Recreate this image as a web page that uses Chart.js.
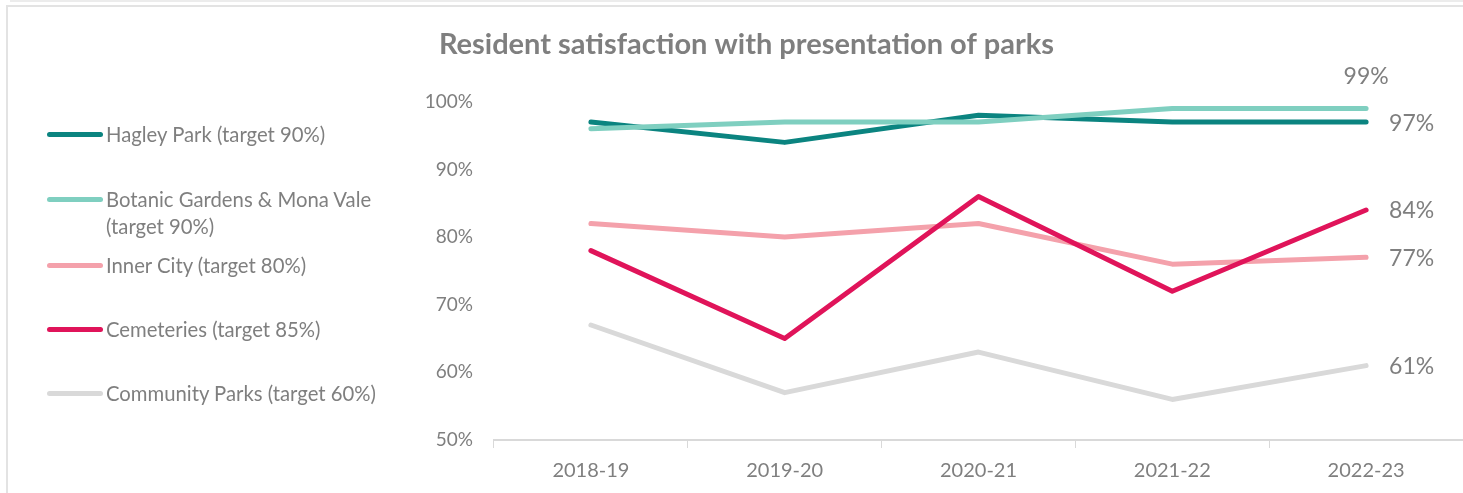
<!DOCTYPE html>
<html>
<head>
<meta charset="utf-8">
<script src="https://cdn.jsdelivr.net/npm/chart.js@4/dist/chart.umd.min.js"></script>
<style>
  html, body { margin: 0; padding: 0; background: #fff; }
  body { width: 1463px; height: 493px; position: relative; overflow: hidden; font-family: Lato, sans-serif; }
  #frame { position: absolute; left: 6px; top: 5px; right: -10px; bottom: -10px; border-left: 2px solid #e3e3e3; border-top: 2px solid #e3e3e3; }
  #topline { position: absolute; left: 10px; top: 0; right: 0; height: 2px; background: #ececec; }
  #wrap { position: absolute; left: 0; top: 0; width: 1463px; height: 493px; }
  #legend { position: absolute; left: 47px; top: 0; }
  .item { position: absolute; left: 0; width: 420px; }
  .swatch { position: absolute; left: 0; width: 56px; height: 5px; border-radius: 3px; }
  .txt { position: absolute; left: 59px; top: 0; font-size: 20.3px; line-height: 27px; color: #7f7f7f; white-space: nowrap; }
</style>
</head>
<body>
<div id="topline"></div>
<div id="frame"></div>
<div id="wrap"><canvas id="myChart" width="1463" height="493"></canvas></div>
<div id="legend"></div>
<script>
const years = ['2018-19', '2019-20', '2020-21', '2021-22', '2022-23'];
const seriesNames = [
  'Hagley Park (target 90%)',
  'Botanic Gardens & Mona Vale\n(target 90%)',
  'Inner City (target 80%)',
  'Cemeteries (target 85%)',
  'Community Parks (target 60%)'
];
const hagley = [97, 94, 98, 97, 97];
const botanic = [96, 97, 97, 99, 99];
const innerCity = [82, 80, 82, 76, 77];
const cemeteries = [78, 65, 86, 72, 84];
const community = [67, 57, 63, 56, 61];
const yTicks = [50, 60, 70, 80, 90, 100];
const colours = ['#0b8480', '#7fcfc0', '#f4a1ab', '#e0145a', '#d9d9d9'];

const values = [hagley, botanic, innerCity, cemeteries, community];
const textGrey = '#7f7f7f';

// legend on the left, built as html
const legendTops = [134, 199, 265, 329, 393];
const legendBox = document.getElementById('legend');
for (let i = 0; i < seriesNames.length; i++) {
  const item = document.createElement('div');
  item.className = 'item';
  item.style.top = (legendTops[i] - 13) + 'px';
  const sw = document.createElement('div');
  sw.className = 'swatch';
  sw.style.background = colours[i];
  sw.style.top = '11px';
  const t = document.createElement('div');
  t.className = 'txt';
  t.innerHTML = seriesNames[i].replace('&', '&amp;').replace('\n', '<br>');
  item.appendChild(sw);
  item.appendChild(t);
  legendBox.appendChild(item);
}

const endLabels = {
  id: 'endLabels',
  afterDatasetsDraw(chart) {
    const ctx = chart.ctx;
    ctx.save();
    ctx.font = '23px Lato';
    ctx.fillStyle = textGrey;
    ctx.textBaseline = 'middle';
    chart.data.datasets.forEach((ds, i) => {
      const meta = chart.getDatasetMeta(i);
      const last = meta.data[meta.data.length - 1];
      const txt = ds.data[ds.data.length - 1] + '%';
      if (i === 1) {
        ctx.textAlign = 'center';
        ctx.fillText(txt, last.x, last.y - 32);
      } else {
        ctx.textAlign = 'left';
        ctx.fillText(txt, last.x + 23, last.y + 1);
      }
    });
    ctx.restore();
  }
};

const data = {
  labels: years,
  datasets: values.map((v, i) => ({
    label: seriesNames[i],
    data: v,
    borderColor: colours[i],
    backgroundColor: colours[i],
    borderWidth: 5,
    borderCapStyle: 'round',
    borderJoinStyle: 'round',
    pointRadius: 0,
    tension: 0,
    order: values.length - i
  }))
};

const config = {
  type: 'line',
  data: data,
  options: {
    responsive: false,
    animation: false,
    layout: { padding: { left: 30, right: 0, top: 0, bottom: 0 } },
    plugins: {
      legend: { display: false },
      tooltip: { enabled: false },
      title: {
        display: true,
        text: 'Resident satisfaction with presentation of parks',
        color: textGrey,
        font: { family: 'Lato', size: 29, weight: 'bold' },
        padding: { top: 27, bottom: 40 }
      }
    },
    scales: {
      x: {
        offset: true,
        afterFit(scale) { scale.height = 53; },
        grid: { display: true, drawOnChartArea: false, offset: true, tickLength: 8, color: '#d9d9d9' },
        border: { color: '#d9d9d9', width: 2 },
        ticks: { color: textGrey, font: { family: 'Lato', size: 20 }, padding: 11 }
      },
      y: {
        min: yTicks[0],
        max: yTicks[yTicks.length - 1],
        afterFit(scale) { scale.width = 464; },
        afterBuildTicks(scale) { scale.ticks = yTicks.map(v => ({ value: v })); },
        grid: { display: false },
        border: { display: false },
        ticks: {
          color: textGrey,
          font: { family: 'Lato', size: 19 },
          padding: 13,
          callback: v => v + '%'
        }
      }
    }
  },
  plugins: [endLabels]
};

const myChart = new Chart(document.getElementById('myChart'), config);
</script>
</body>
</html>
